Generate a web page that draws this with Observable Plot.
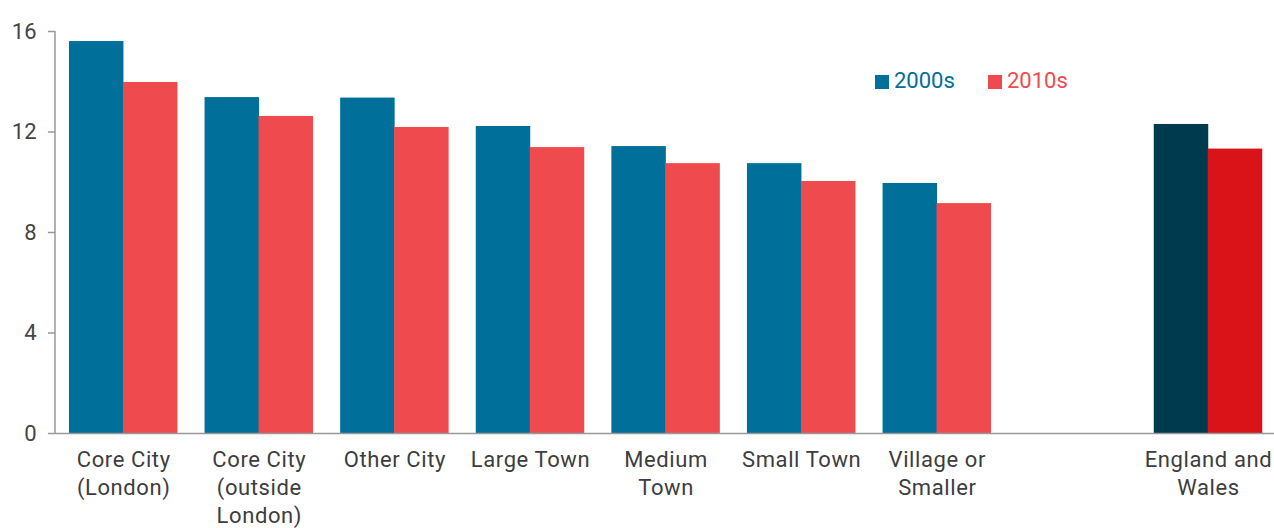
<!DOCTYPE html>
<html>
<head>
<meta charset="utf-8">
<script src="https://cdn.jsdelivr.net/npm/d3@7"></script>
<script src="https://cdn.jsdelivr.net/npm/@observablehq/plot@0.6"></script>
<style>
  html, body { margin: 0; padding: 0; background: #fff; }
  #wrap { position: relative; width: 1274px; height: 528px; overflow: hidden; font-family: Roboto, sans-serif; }
  .legend { position: absolute; top: 68px; font-size: 22px; display: flex; align-items: center; }
  .legend .sw { width: 14px; height: 14px; display: inline-block; margin-right: 5px; margin-top: 3px; }
</style>
</head>
<body>
<div id="wrap"></div>
<script>
const categories = ["Core City\n(London)", "Core City\n(outside\nLondon)", "Other City", "Large Town", "Medium\nTown", "Small Town", "Village or\nSmaller", " ", "England and\nWales"];
const dataCategories = ["Core City\n(London)", "Core City\n(outside\nLondon)", "Other City", "Large Town", "Medium\nTown", "Small Town", "Village or\nSmaller", "England and\nWales"];
const values2000s = [15.6, 13.37, 13.35, 12.22, 11.42, 10.74, 9.95, 12.3];
const values2010s = [13.97, 12.62, 12.18, 11.38, 10.74, 10.03, 9.15, 11.32];
const yTicks = [0, 4, 8, 12, 16];
const gridTicks = [4, 8, 12, 16];
const seriesNames = ["2000s", "2010s"];

const total = "England and\nWales";
const rows2000 = dataCategories.map((c, i) => ({category: c, value: values2000s[i]}));
const rows2010 = dataCategories.map((c, i) => ({category: c, value: values2010s[i]}));

const half = 54;
const chart = Plot.plot({
  width: 1274,
  height: 528,
  marginLeft: 55,
  marginRight: 0,
  marginTop: 31,
  marginBottom: 95,
  style: {fontFamily: "Roboto, sans-serif", fontSize: "22px", color: "#3d3d3d", background: "#fff", overflow: "visible"},
  x: {domain: categories, range: [55.4, 1275.8], paddingInner: 0.2, paddingOuter: 0.1, round: false, label: null},
  y: {domain: [0, 16], label: null},
  marks: [
    Plot.ruleY(gridTicks, {x1: 55, x2: 1274, stroke: "#aaa", strokeWidth: 2, strokeDasharray: "9,6.5"}),
    Plot.barY(rows2000, {x: "category", y: "value", insetRight: half, fill: d => d.category === total ? "#003a4f" : "#006f9a"}),
    Plot.barY(rows2010, {x: "category", y: "value", insetLeft: half, fill: d => d.category === total ? "#d91317" : "#ef4b4f"}),
    Plot.ruleY([0], {stroke: "#999", strokeWidth: 1.5}),
    Plot.axisY({ticks: yTicks, tickSize: 7, tickPadding: 12, stroke: "#999", strokeWidth: 1.5, fill: "#444", fontSize: 22, label: null}),
    Plot.axisX({tickSize: 0, tickPadding: 14, fill: "#3d3d3d", fontSize: 22, lineHeight: 1.27, label: null})
  ]
});
chart.style.display = "block";
const wrap = document.getElementById("wrap");
wrap.appendChild(chart);

// vertical axis line along the left edge of the frame
const svg = d3.select(chart);
svg.append("line").attr("x1", 55).attr("x2", 55).attr("y1", 31).attr("y2", 433).attr("stroke", "#999").attr("stroke-width", 1.5);
svg.selectAll("[aria-label='x-axis tick label'] text").style("letter-spacing", "0.6px");

const legendColors = ["#006f9a", "#ef4b4f"];
const legendLeft = [875, 988];
seriesNames.forEach((s, i) => {
  const el = document.createElement("div");
  el.className = "legend";
  el.style.left = legendLeft[i] + "px";
  el.style.color = legendColors[i];
  el.innerHTML = `<span class="sw" style="background:${legendColors[i]}"></span>${s}`;
  wrap.appendChild(el);
});
</script>
</body>
</html>
